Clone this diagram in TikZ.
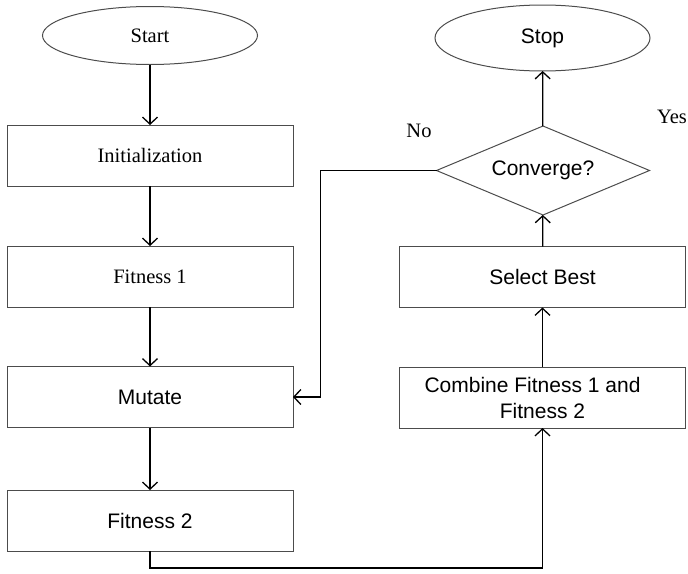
\documentclass[tikz,border=0pt]{standalone}
\usepackage{fontspec}
\setmainfont{Liberation Serif}
\setsansfont{Liberation Sans}
\usetikzlibrary{shapes.geometric,arrows.meta}

\begin{document}
\begin{tikzpicture}[x=1pt,y=-1pt,
  every node/.style={font=\fontsize{20.5}{26}\selectfont, outer sep=0pt},
  box/.style={draw=black!70, line width=1pt, minimum width=286pt, minimum height=61pt, inner sep=0pt},
  term/.style={ellipse, draw=black!70, line width=1pt, minimum width=215pt, minimum height=62pt, inner sep=0pt},
  sans/.style={font=\fontsize{21}{26}\selectfont\sffamily},
  flow/.style={draw=black, line width=1.3pt, -{Straight Barb[length=7pt,width=15pt]}}]
\useasboundingbox (0,0) rectangle (688,573);

\node[term, minimum height=58pt] (start) at (150,35.5) {Start};
\node[box] (init) at (150,155.5) {Initialization};
\node[box] (fit1) at (150,276.5) {Fitness 1};
\node[box,sans] (mutate) at (150,397) {Mutate};
\node[box,sans] (fit2) at (150,520.5) {Fitness 2};

\node[box,sans,align=center] (comb) at (542.5,397.5) {Combine Fitness 1 and\hspace*{20pt}\\Fitness 2};
\node[box,sans] (select) at (542.5,277) {Select Best};
\node[diamond, aspect=2.4, draw=black!70, line width=1pt, minimum width=213pt, minimum height=89pt, inner sep=0pt, sans] (conv) at (543,170.5) {Converge?};
\node[term,sans, minimum height=66pt] (stop) at (542.5,38) {Stop};

\node (yes) at (672,117) {Yes};
\node (no) at (419,131) {No};

\draw[flow] (start) -- (init);
\draw[flow] (init) -- (fit1);
\draw[flow] (fit1) -- (mutate);
\draw[flow] (mutate) -- (fit2);
\draw[flow] (fit2.south) -- ++(0,17) -| (comb.south);
\draw[flow] (comb) -- (select);
\draw[flow] (select) -- (conv);
\draw[flow] (conv) -- (stop);
\draw[flow] (conv.west) -- ++(-116,0) |- (mutate.east);
\end{tikzpicture}
\end{document}
